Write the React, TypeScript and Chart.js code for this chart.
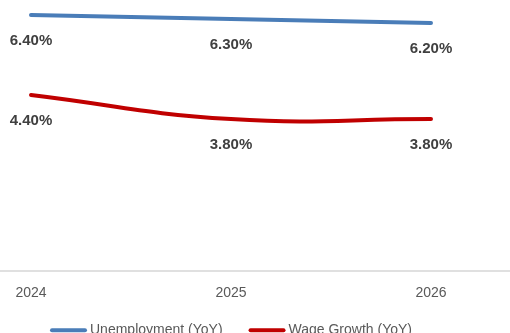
import React, { useEffect, useRef } from "react";
import { Chart, registerables } from "chart.js";

Chart.register(...registerables);

const categories = ["2024", "2025", "2026"];
const unemployment = [6.4, 6.3, 6.2];
const wageGrowth = [4.4, 3.8, 3.8];
const seriesNames = ["Unemployment (YoY)", "Wage Growth (YoY)"];
const seriesColors = ["#4a7db8", "#c00000"];

const FONT = "'Liberation Sans', Arial, sans-serif";

const dataLabelPlugin = {
  id: "dataLabels",
  afterDatasetsDraw(chart: any) {
    const ctx = chart.ctx;
    ctx.save();
    ctx.font = `bold 15px ${FONT}`;
    ctx.fillStyle = "#404040";
    ctx.textAlign = "center";
    ctx.textBaseline = "middle";
    chart.data.datasets.forEach((ds: any, di: number) => {
      const meta = chart.getDatasetMeta(di);
      meta.data.forEach((pt: any, i: number) => {
        const v = ds.data[i] as number;
        ctx.fillText(v.toFixed(2) + "%", pt.x, pt.y + 25.5);
      });
    });
    ctx.restore();
  },
};

const legendPlugin = {
  id: "customLegend",
  afterDraw(chart: any) {
    const ctx = chart.ctx;
    ctx.save();
    ctx.font = `14px ${FONT}`;
    ctx.textBaseline = "middle";
    ctx.textAlign = "left";
    const lineW = 37;
    const gapText = 3;
    const gapItem = 26;
    const items = chart.data.datasets.map((ds: any) => ({
      text: ds.label as string,
      color: ds.borderColor as string,
      w: ctx.measureText(ds.label).width,
    }));
    const total =
      items.reduce((s: number, it: any) => s + lineW + gapText + it.w, 0) +
      gapItem * (items.length - 1);
    const cx = (chart.chartArea.left + chart.chartArea.right) / 2;
    let x = cx - total / 2;
    const y = chart.chartArea.bottom + 59;
    items.forEach((it: any) => {
      ctx.strokeStyle = it.color;
      ctx.lineWidth = 4;
      ctx.lineCap = "round";
      ctx.beginPath();
      ctx.moveTo(x + 2, y);
      ctx.lineTo(x + lineW - 2, y);
      ctx.stroke();
      ctx.fillStyle = "#595959";
      ctx.fillText(it.text, x + lineW + gapText, y);
      x += lineW + gapText + it.w + gapItem;
    });
    ctx.restore();
  },
};

export default function App() {
  const ref = useRef<HTMLCanvasElement>(null);
  useEffect(() => {
    if (!ref.current) return;
    const chart = new Chart(ref.current, {
      type: "line",
      data: {
        labels: categories,
        datasets: [
          {
            label: seriesNames[0],
            data: unemployment,
            borderColor: seriesColors[0],
            backgroundColor: seriesColors[0],
            borderWidth: 4,
            pointRadius: 0,
            tension: 0.4,
            borderCapStyle: "round",
          },
          {
            label: seriesNames[1],
            data: wageGrowth,
            borderColor: seriesColors[1],
            backgroundColor: seriesColors[1],
            borderWidth: 4,
            pointRadius: 0,
            tension: 0.45,
            borderCapStyle: "round",
          },
        ],
      },
      options: {
        animation: false,
        responsive: true,
        maintainAspectRatio: false,
        layout: { padding: { top: 0, left: 0, right: 0, bottom: 44 } },
        scales: {
          x: {
            offset: true,
            grid: { display: false, drawTicks: false },
            border: { display: true, color: "#e0e0e0", width: 2 },
            ticks: {
              color: "#595959",
              font: { family: FONT, size: 14 },
              padding: 14,
            },
          },
          y: {
            display: false,
            min: 0,
            max: 7,
          },
        },
        plugins: {
          tooltip: { enabled: false },
          legend: { display: false },
        },
      },
      plugins: [dataLabelPlugin, legendPlugin],
    });
    return () => chart.destroy();
  }, []);

  return (
    <div
      style={{
        position: "fixed",
        left: 0,
        top: 0,
        width: 510,
        height: 333,
        overflow: "hidden",
        background: "#ffffff",
      }}
    >
      <div
        style={{
          position: "absolute",
          left: -69,
          top: -9,
          width: 600,
          height: 369,
        }}
      >
        <canvas ref={ref} />
      </div>
    </div>
  );
}
